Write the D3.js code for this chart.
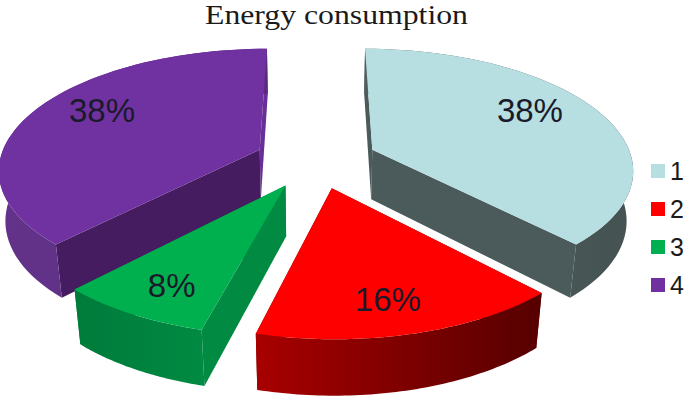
<!DOCTYPE html>
<html>
<head>
<meta charset="utf-8">
<script src="https://cdnjs.cloudflare.com/ajax/libs/d3/7.8.5/d3.min.js"></script>
<style>
  html, body { margin: 0; padding: 0; background: #fff; }
  svg { display: block; }
</style>
</head>
<body>
<div id="chart"></div>
<script>
var width = 685;
var height = 403;

// values
var categories = ["1", "2", "3", "4"];
var shares = [38, 16, 8, 38];
var chartTitle = "Energy consumption";

var topColors = ["#b7dee1", "#ff0000", "#00b050", "#7030a0"];
var startFaceColors = ["#4b5a5a", "#7a0000", "#008a42", "#451c5e"];
var endFaceColors = ["#4b5a5a", "#7a0000", "#008a42", "#6a2e98"];
var outerFrom = ["#4f5e5e", "#a80000", "#007a3a", "#63338a"];
var outerTo = ["#445252", "#560000", "#008a42", "#5a2c7e"];
var labelRadius = [0.75, 0.785, 0.79, 0.75];
var labelShift = [-7, 1.4, -1.2, 7]; // degrees off the slice middle

// the tilted pie, a cheap perspective camera
var cx = 316, cy = 160;
var rx = 260, ry = 119;
var depth = 51;
var explode = 0.236;
var persp = 0.15, sink = 0.021;

function project(X, Y, z) {
  var d = 1 - persp * Y + sink * z;
  return [cx + rx * X / d, cy + (ry * Y + depth * z) / d];
}

function apex(a) {
  var mid = (a.startAngle + a.endAngle) / 2;
  return [explode * Math.sin(mid), -explode * Math.cos(mid)];
}

function onRim(a, angle, r, z) {
  var o = apex(a);
  return project(o[0] + r * Math.sin(angle), o[1] - r * Math.cos(angle), z);
}

function rimPoints(a, z) {
  return d3.range(0, 61).map(function(i) {
    return onRim(a, a.startAngle + (a.endAngle - a.startAngle) * i / 60, 1, z);
  });
}

var line = d3.line();

var pie = d3.pie().sort(null).startAngle(0).endAngle(2 * Math.PI);
var arcs = pie(shares);
arcs.forEach(function(a, i) { a.i = i; });

var svg = d3.select("#chart").append("svg")
  .attr("width", width)
  .attr("height", height);

var defs = svg.append("defs");
var blur = defs.append("filter").attr("id", "soft");
blur.append("feGaussianBlur").attr("stdDeviation", 0.45);

arcs.forEach(function(a) {
  var pts = rimPoints(a, 0);
  var ext = d3.extent(pts, function(p) { return p[0]; });
  var grad = defs.append("linearGradient")
    .attr("id", "outer" + a.i)
    .attr("gradientUnits", "userSpaceOnUse")
    .attr("x1", ext[0]).attr("x2", ext[1])
    .attr("y1", 0).attr("y2", 0);
  grad.append("stop").attr("offset", 0).attr("stop-color", outerFrom[a.i]);
  grad.append("stop").attr("offset", 1).attr("stop-color", outerTo[a.i]);
});

// back slices first
var drawOrder = [3, 0, 2, 1];
var g = svg.append("g").attr("filter", "url(#soft)");

drawOrder.forEach(function(i) {
  var a = arcs[i];
  var slice = g.append("g").attr("class", "slice");

  [a.endAngle, a.startAngle].forEach(function(angle, k) {
    var face = [onRim(a, angle, 0, 0), onRim(a, angle, 1, 0), onRim(a, angle, 1, 1), onRim(a, angle, 0, 1)];
    slice.append("path")
      .attr("d", line(face) + "Z")
      .attr("fill", k == 1 ? startFaceColors[i] : endFaceColors[i]);
  });

  var outer = rimPoints(a, 0).concat(rimPoints(a, 1).reverse());
  slice.append("path")
    .attr("d", line(outer) + "Z")
    .attr("fill", "url(#outer" + i + ")");

  var top = [onRim(a, a.startAngle, 0, 0)].concat(rimPoints(a, 0));
  slice.append("path")
    .attr("d", line(top) + "Z")
    .attr("fill", topColors[i]);
});

// percent labels
arcs.forEach(function(a) {
  var mid = (a.startAngle + a.endAngle) / 2 + labelShift[a.i] * Math.PI / 180;
  var p = onRim(a, mid, labelRadius[a.i], 0);
  svg.append("text")
    .attr("x", p[0])
    .attr("y", p[1] + 12)
    .attr("text-anchor", "middle")
    .attr("font-family", "Liberation Sans")
    .attr("font-size", 33)
    .attr("fill", "#1a1a2a")
    .text(a.data + "%");
});

svg.append("text")
  .attr("x", 205)
  .attr("y", 24)
  .attr("font-family", "Liberation Serif")
  .attr("font-size", 27)
  .attr("textLength", 263)
  .attr("lengthAdjust", "spacingAndGlyphs")
  .attr("fill", "#1a1a1a")
  .text(chartTitle);

// legend
var legendY = d3.scalePoint().domain(categories).range([171, 285]);
var legend = svg.selectAll(".legend").data(categories).enter().append("g")
  .attr("class", "legend")
  .attr("transform", function(d) { return "translate(651," + legendY(d) + ")"; });
legend.append("rect")
  .attr("x", 0).attr("y", -7)
  .attr("width", 14).attr("height", 14)
  .attr("fill", function(d, i) { return topColors[i]; });
legend.append("text")
  .attr("x", 19)
  .attr("y", 9)
  .attr("font-family", "Liberation Sans")
  .attr("font-size", 25)
  .attr("fill", "#1a1a1a")
  .text(function(d) { return d; });
</script>
</body>
</html>
